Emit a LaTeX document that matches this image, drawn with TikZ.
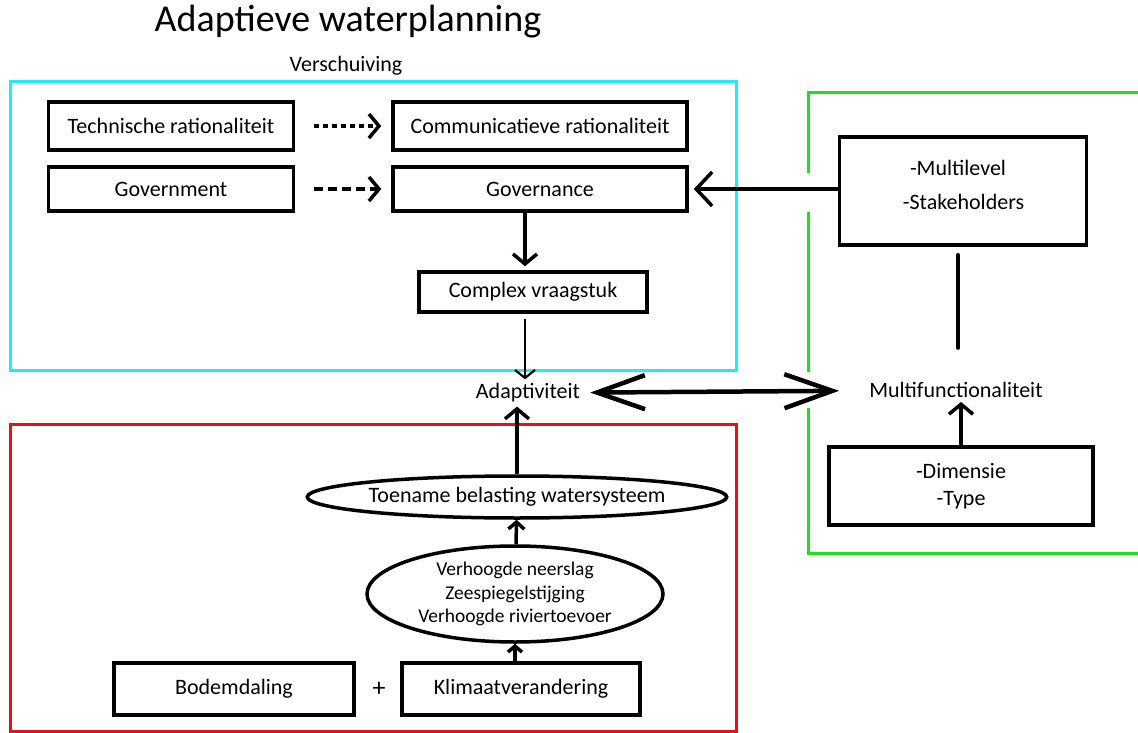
\documentclass[tikz,border=0pt]{standalone}
\usepackage{fontspec}
\setmainfont{Carlito}
\usetikzlibrary{arrows.meta,shapes.geometric}
\begin{document}
\begin{tikzpicture}[x=1pt,y=-1pt,
  box/.style={draw,line width=3.5pt,inner sep=0pt,align=center,font=\fontsize{22}{27}\selectfont},
  oval/.style={ellipse,draw,line width=3.5pt,inner sep=0pt,align=center,font=\fontsize{22}{27}\selectfont},
  lbl/.style={inner sep=2pt,align=center,font=\fontsize{22}{27}\selectfont},
  arr/.style={line width=3.5pt,-{Straight Barb[length=10pt,width=24pt]}},
  thinarr/.style={line width=2.2pt,-{Straight Barb[length=8pt,width=20pt]}},
  bigarr/.style={line width=4.5pt,{Straight Barb[length=48pt,width=34pt]}-{Straight Barb[length=48pt,width=34pt]}}]
\definecolor{cyanframe}{rgb}{0.12,0.93,0.95}
\definecolor{greenframe}{rgb}{0.12,0.88,0.12}
\definecolor{redframe}{rgb}{0.92,0.06,0.10}
\useasboundingbox (0,0) rectangle (1138,733);
\node[font=\fontsize{38}{44}\selectfont] (title) at (348,22) {Adaptieve waterplanning};
\node[lbl] (shift) at (346,66) {Verschuiving};
\draw[cyanframe,line width=3pt] (10,82) rectangle (736,370);
\draw[redframe,line width=3pt] (10,424) rectangle (736,731);
\draw[greenframe,line width=3pt] (1140,93) -- (808,93) -- (808,173);
\draw[greenframe,line width=3pt] (808,212) -- (808,372);
\draw[greenframe,line width=3pt] (808,408) -- (808,553) -- (1140,553);
\node[box,minimum width=245pt,minimum height=48pt] (tech) at (171,126) {Technische rationaliteit};
\node[box,minimum width=294pt,minimum height=48pt] (comm) at (540,126) {Communicatieve rationaliteit};
\node[box,minimum width=245pt,minimum height=44pt] (govt) at (171,189) {Government};
\node[box,minimum width=294pt,minimum height=44pt] (gov) at (540,189) {Governance};
\node[box,minimum width=228pt,minimum height=40pt] (cvr) at (533,292) {Complex vraagstuk};
\node[lbl] (adap) at (528,393) {Adaptiviteit};
\node[lbl] (mfun) at (956,390) {Multifunctionaliteit};
\node[box,minimum width=247pt,minimum height=108pt] (mlvl) at (963,191) {};
\node[lbl] (mlvltxt) at (958,185) {-Multilevel\\[7pt]\,\,\,-Stakeholders};
\node[box,minimum width=264pt,minimum height=78pt] (dim) at (961,486) {-Dimensie\\-Type};
\node[oval,minimum width=414pt,minimum height=42pt] (toen) at (517,497) {Toename belasting watersysteem};
\node[oval,font=\fontsize{19.5}{23.5}\selectfont,minimum width=296pt,minimum height=96pt] (gevolg) at (515,594) {Verhoogde neerslag\\Zeespiegelstijging\\Verhoogde riviertoevoer};
\node[box,minimum width=240pt,minimum height=52pt] (bodem) at (234,689) {Bodemdaling};
\node[lbl,font=\fontsize{26}{30}\selectfont] (plus) at (379,689) {+};
\node[box,minimum width=238pt,minimum height=52pt] (klim) at (521,689) {Klimaatverandering};
\draw[arr,dash pattern=on 5pt off 4pt,shorten <=19pt,shorten >=10pt] (tech) -- (comm);
\draw[arr,dash pattern=on 9pt off 5pt,shorten <=19pt,shorten >=10pt] (govt) -- (gov);
\draw[arr,shorten >=4pt] ([xshift=-15pt]gov.south) -- ([xshift=-8pt]cvr.north);
\draw[thinarr,shorten <=5pt,shorten >=2pt] ([xshift=-8pt]cvr.south) -- ([xshift=-8pt]cvr.south |- adap.north);
\draw[bigarr,shorten <=8pt,shorten >=28pt] (adap) -- (mfun);
\draw[arr,-{Straight Barb[length=16pt,width=34pt]},shorten >=5pt] (mlvl.west |- gov) -- (gov);
\draw[line width=3.5pt,line cap=round,shorten <=8pt,shorten >=32pt] ([xshift=-5pt]mlvl.south) -- ([xshift=-5pt]mlvl.south |- mfun.north);
\draw[arr,shorten >=2pt] (dim) -- (dim |- mfun.south);
\draw[arr,shorten >=2pt] (toen) -- (toen |- adap.south);
\draw[arr,-{Straight Barb[length=7pt,width=16pt]}] (gevolg) -- (toen);
\draw[arr,-{Straight Barb[length=6pt,width=14pt]}] (klim.north -| gevolg.south) -- (gevolg);
\end{tikzpicture}
\end{document}
